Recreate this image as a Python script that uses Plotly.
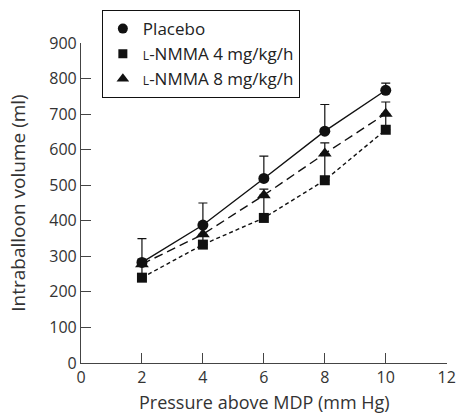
import plotly.graph_objects as go

# Data
pressure = [2, 4, 6, 8, 10]

placebo = [283, 388, 519, 652, 767]
placebo_top = [350, 450, 582, 727, 787]

nmma4 = [240, 333, 408, 514, 656]
nmma4_top = [275, 358, 466, 586, 697]

nmma8 = [278, 362, 472, 589, 701]
nmma8_top = [292, 386, 489, 619, 734]

names = ["Placebo",
         "<span style='font-size:12px'>L</span>-NMMA 4 mg/kg/h",
         "<span style='font-size:12px'>L</span>-NMMA 8 mg/kg/h"]

font = "Open Sans"
ink = "#111111"

def plus(vals, tops):
    return [t - v for v, t in zip(vals, tops)]

fig = go.Figure()

series = [
    (nmma4, nmma4_top, "square", 10, "4px,3px"),
    (nmma8, nmma8_top, "triangle-up", 12, "9px,5px"),
    (placebo, placebo_top, "circle", 11, "solid"),
]
for vals, tops, sym, sz, dash in series:
    fig.add_trace(go.Scatter(
        x=pressure, y=vals, mode="lines+markers", showlegend=False,
        line=dict(color=ink, width=1.4, dash=dash),
        marker=dict(symbol=sym, size=sz, color=ink),
        error_y=dict(type="data", symmetric=False, array=plus(vals, tops),
                     arrayminus=[0] * len(vals), color=ink, thickness=1.2, width=4.5),
    ))

# legend entries show the marker only
for nm, sym, sz in zip(names, ["circle", "square", "triangle-up"], [10, 9, 11]):
    fig.add_trace(go.Scatter(x=[None], y=[None], mode="markers", name=nm,
                             marker=dict(symbol=sym, size=sz, color=ink)))

fig.update_layout(
    width=456, height=415,
    margin=dict(l=81, r=9, t=43, b=52, autoexpand=False),
    paper_bgcolor="white", plot_bgcolor="white",
    font=dict(family=font, size=16, color="#333333"),
    legend=dict(x=0.057, y=1.103, xanchor="left", yanchor="top",
                bordercolor=ink, borderwidth=1, bgcolor="white",
                font=dict(size=17, color="#222222"), itemwidth=30,
                tracegroupgap=0),
)
# x title placed as an annotation so it sits closer to the tick labels
fig.add_annotation(text="Pressure above MDP (mm Hg)", xref="paper", yref="paper",
                   x=0.5, y=-0.121, xanchor="center", yanchor="middle",
                   showarrow=False, font=dict(size=18, color="#333333"))
fig.update_xaxes(range=[0, 12.01], tickvals=[0, 2, 4, 6, 8, 10, 12],
                 showline=True, linecolor="#444444", linewidth=1.2,
                 ticks="inside", ticklen=10, tickcolor="#444444",
                 ticklabeloverflow="allow", automargin=False,
                 showgrid=False, zeroline=False)
fig.update_yaxes(range=[0, 900], tickvals=list(range(0, 901, 100)),
                 showline=True, linecolor="#444444", linewidth=1.2,
                 ticks="inside", ticklen=10, tickcolor="#444444",
                 automargin=False,
                 showgrid=False, zeroline=False,
                 title=dict(text="Intraballoon volume (ml)", standoff=18))

# drop the browser's default page margin so the figure sits at 0,0
fig.write_html("out.html", config={"displayModeBar": False},
               post_script="document.body.style.margin='0';")
